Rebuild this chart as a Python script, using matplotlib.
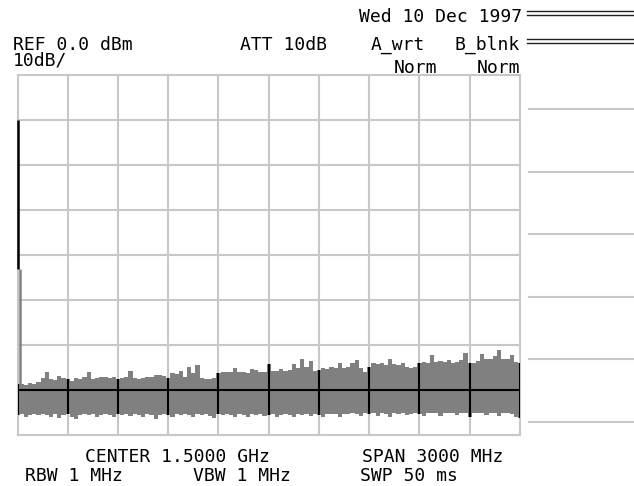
import numpy as np
import matplotlib
matplotlib.use("Agg")
import matplotlib.pyplot as plt
from matplotlib.lines import Line2D

# ---------------- data ----------------
start_mhz, stop_mhz = 0, 3000
ref_dbm, bottom_dbm = 0, -80
freq_mhz = np.linspace(start_mhz, stop_mhz, 121)

noise_upper_dbm = [
    -68.5, -68.5, -68.7, -68.3, -68.6, -68.1, -67.3, -66.0, -67.5, -67.6,
    -66.7, -67.3, -67.5, -68.0, -67.3, -67.4, -67.1, -66.0, -67.4, -67.3,
    -67.1, -66.9, -67.2, -67.0, -67.4, -67.3, -67.0, -65.6, -67.3, -67.4,
    -67.2, -67.0, -66.9, -66.5, -66.6, -66.8, -67.2, -66.2, -66.4, -65.6,
    -67.1, -64.7, -66.2, -64.4, -67.3, -67.5, -67.4, -67.3, -66.2, -66.0,
    -65.8, -65.9, -64.9, -66.0, -65.9, -66.1, -65.3, -65.4, -66.0, -65.9,
    -64.2, -65.6, -65.7, -65.2, -65.6, -65.5, -64.2, -65.1, -62.9, -64.8,
    -63.4, -65.6, -65.4, -65.1, -65.2, -64.8, -64.9, -63.8, -64.9, -64.7,
    -64.0, -63.3, -64.9, -65.8, -64.7, -64.0, -64.2, -64.0, -64.3, -62.9,
    -64.2, -64.4, -64.0, -64.8, -64.9, -64.7, -63.8, -63.6, -63.9, -62.2,
    -63.6, -63.4, -63.7, -63.3, -63.8, -63.6, -63.2, -61.6, -64.0, -63.8,
    -63.4, -61.8, -62.9, -63.1, -62.4, -61.1, -63.0, -62.9, -62.2, -63.6,
    -63.8]

noise_lower_dbm = [
    -75.4, -75.3, -75.9, -75.4, -75.3, -75.5, -75.3, -75.4, -75.8, -75.3,
    -76.2, -75.4, -75.3, -75.9, -76.4, -75.4, -75.3, -75.5, -75.3, -75.8,
    -75.4, -75.3, -75.4, -75.9, -75.3, -75.4, -75.3, -75.6, -75.3, -75.4,
    -75.8, -75.3, -75.4, -76.3, -75.4, -75.3, -75.4, -75.8, -75.3, -75.4,
    -75.3, -75.5, -75.9, -75.3, -75.4, -75.3, -75.7, -76.1, -75.3, -75.4,
    -75.3, -75.4, -75.8, -75.3, -75.4, -75.9, -75.3, -75.4, -75.3, -75.7,
    -75.4, -75.3, -75.8, -75.4, -75.3, -75.4, -75.9, -75.3, -75.4, -75.3,
    -75.6, -75.3, -75.4, -75.8, -75.3, -75.2, -75.3, -76.0, -75.2, -75.3,
    -75.1, -75.2, -75.7, -75.1, -75.2, -75.1, -75.6, -75.1, -75.2, -76.0,
    -75.1, -75.2, -75.1, -75.5, -75.2, -75.1, -75.2, -75.7, -75.1, -75.0,
    -75.1, -75.6, -75.0, -75.1, -75.0, -75.5, -75.1, -75.0, -75.8, -75.0,
    -75.1, -75.0, -75.4, -75.0, -75.1, -75.6, -75.0, -75.1, -75.2, -75.9,
    -76.2]

# LO feed-through spike at the start of the sweep
spike_freq_mhz = [0, 0, 12, 12]
spike_dbm = [-10.0, -43.0, -43.0, -68.5]

x_grid = np.linspace(start_mhz, stop_mhz, 11)
y_grid = np.arange(bottom_dbm, ref_dbm + 1, 10)

date_label = "Wed 10 Dec 1997"
top_labels = ["REF 0.0 dBm", "10dB/", "ATT 10dB", "A_wrt", "B_blnk", "Norm", "Norm"]
bottom_labels = ["CENTER 1.5000 GHz", "SPAN 3000 MHz", "RBW 1 MHz", "VBW 1 MHz", "SWP 50 ms"]

# ---------------- figure ----------------
W, H = 634, 486
fig = plt.figure(figsize=(W / 100, H / 100), dpi=100)
fig.patch.set_facecolor("white")

def fx(px):
    return px / W

def fy(py):
    return 1 - py / H

ax = fig.add_axes([fx(17.5), fy(435.5), (520 - 17.5) / W, 360 / H])
ax.set_xlim(start_mhz, stop_mhz)
ax.set_ylim(bottom_dbm, ref_dbm)
ax.axis("off")

grid_c = "#c8c8c8"
glw = 1.5
for xv in x_grid:
    ax.axvline(xv, color=grid_c, lw=glw, zorder=1, clip_on=False)
for yv in y_grid:
    ax.axhline(yv, color=grid_c, lw=glw, zorder=1, clip_on=False)

poly = ax.fill_between(freq_mhz, noise_lower_dbm, noise_upper_dbm, step="mid",
                       color="#808080", lw=0, zorder=2)
clip = poly.get_paths()[0]
tr = poly.get_transform()
for xv in x_grid:
    ln = ax.axvline(xv, color="black", lw=glw, zorder=3)
    ln.set_clip_path(clip, tr)
for yv in y_grid:
    ln = ax.axhline(yv, color="black", lw=glw, zorder=3)
    ln.set_clip_path(clip, tr)

ax.plot(spike_freq_mhz[:2], spike_dbm[:2], color="black", lw=1.8, zorder=4,
        clip_on=False, solid_capstyle="butt")
ax.plot(spike_freq_mhz[2:], spike_dbm[2:], color="#808080", lw=1.8, zorder=4,
        solid_capstyle="butt")

# ---------------- annotations ----------------
font = dict(family="DejaVu Sans Mono", fontsize=13, color="black")

fig.text(fx(522), fy(21.5), date_label, ha="right", va="baseline", **font)
# reference level and scale share one two-line block
fig.text(fx(13), fy(35.5), top_labels[0] + "\n" + top_labels[1], ha="left", va="top",
         linespacing=0.85, **font)
fig.text(fx(240), fy(50), top_labels[2], ha="left", va="baseline", **font)
fig.text(fx(425), fy(50), top_labels[3], ha="right", va="baseline", **font)
fig.text(fx(520), fy(50), top_labels[4], ha="right", va="baseline", **font)
fig.text(fx(437), fy(73), top_labels[5], ha="right", va="baseline", **font)
fig.text(fx(520), fy(73), top_labels[6], ha="right", va="baseline", **font)

fig.text(fx(85), fy(462), bottom_labels[0], ha="left", va="baseline", **font)
fig.text(fx(503), fy(462), bottom_labels[1], ha="right", va="baseline", **font)
fig.text(fx(25), fy(481), bottom_labels[2], ha="left", va="baseline", **font)
fig.text(fx(193), fy(481), bottom_labels[3], ha="left", va="baseline", **font)
fig.text(fx(360), fy(481), bottom_labels[4], ha="left", va="baseline", **font)

# double rules at the top right
for yy in (11, 15, 39, 43):
    fig.add_artist(Line2D([fx(527), fx(634)], [fy(yy), fy(yy)], color="#222222", lw=1.0))

# soft-key separator lines on the right
for yy in (109, 172, 234, 297, 359, 422):
    fig.add_artist(Line2D([fx(529), fx(634)], [fy(yy), fy(yy)], color=grid_c, lw=1.5))

fig.savefig("out.png", dpi=100, facecolor="white")
